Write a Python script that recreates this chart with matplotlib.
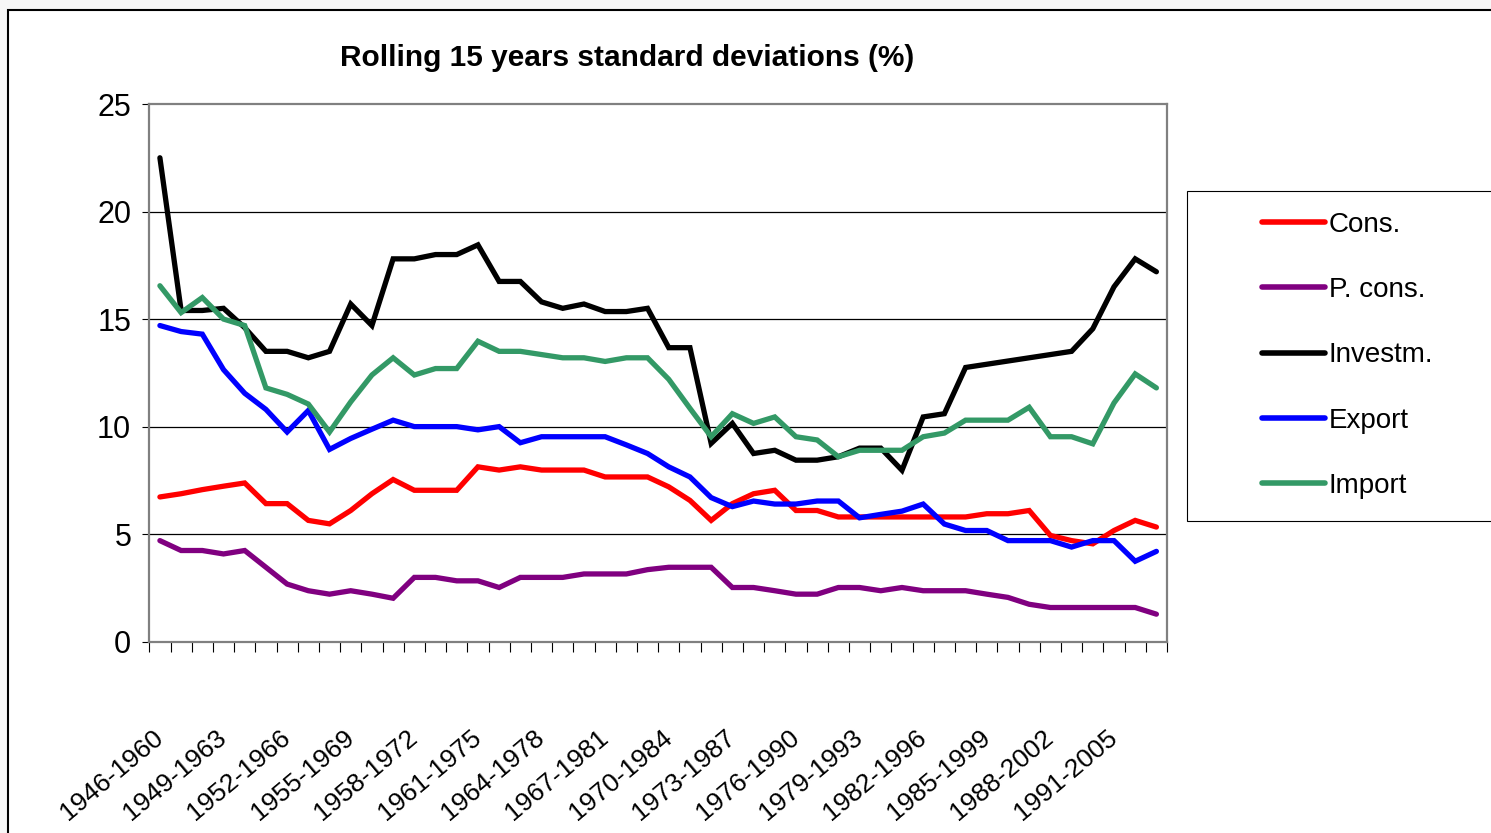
import numpy as np
import matplotlib
matplotlib.use('Agg')
import matplotlib.pyplot as plt
from matplotlib.patches import Rectangle

plt.rcParams['font.family'] = ['Liberation Sans Narrow', 'Liberation Sans', 'DejaVu Sans']

# データ
periods = [f"{y}-{y + 14}" for y in range(1946, 1994)]

cons = [6.73, 6.88, 7.07, 7.23, 7.38, 6.42, 6.42, 5.64, 5.48, 6.1,
        6.88, 7.54, 7.04, 7.04, 7.04, 8.13, 7.98, 8.13, 7.98, 7.98,
        7.98, 7.66, 7.66, 7.66, 7.2, 6.57, 5.64, 6.42, 6.88, 7.04,
        6.1, 6.1, 5.8, 5.8, 5.8, 5.8, 5.8, 5.8, 5.8, 5.95,
        5.95, 6.1, 4.94, 4.7, 4.55, 5.17, 5.64, 5.33]
p_cons = [4.7, 4.24, 4.24, 4.08, 4.24, 3.46, 2.68, 2.37, 2.21, 2.37,
          2.21, 2.02, 2.99, 2.99, 2.83, 2.83, 2.52, 2.99, 2.99, 2.99,
          3.15, 3.15, 3.15, 3.35, 3.46, 3.46, 3.46, 2.52, 2.52, 2.37,
          2.21, 2.21, 2.52, 2.52, 2.37, 2.52, 2.37, 2.37, 2.37, 2.21,
          2.06, 1.74, 1.59, 1.59, 1.59, 1.59, 1.59, 1.28]
investm = [22.5, 15.4, 15.4, 15.5, 14.6, 13.5, 13.5, 13.2, 13.5, 15.7,
           14.7, 17.8, 17.8, 18.0, 18.0, 18.45, 16.75, 16.75, 15.8, 15.5,
           15.7, 15.35, 15.35, 15.5, 13.67, 13.67, 9.22, 10.15, 8.75, 8.9,
           8.44, 8.44, 8.6, 9.0, 9.0, 7.97, 10.45, 10.6, 12.75, 12.9,
           13.05, 13.2, 13.35, 13.5, 14.55, 16.5, 17.8, 17.2]
export = [14.7, 14.42, 14.3, 12.65, 11.55, 10.8, 9.75, 10.75, 8.94, 9.45,
          9.88, 10.3, 10.0, 10.0, 10.0, 9.85, 10.0, 9.25, 9.53, 9.53,
          9.53, 9.53, 9.15, 8.75, 8.13, 7.66, 6.7, 6.28, 6.54, 6.4,
          6.4, 6.54, 6.54, 5.76, 5.92, 6.07, 6.4, 5.47, 5.17, 5.17,
          4.7, 4.7, 4.7, 4.4, 4.7, 4.7, 3.74, 4.2]
imports = [16.55, 15.3, 16.0, 15.0, 14.7, 11.8, 11.5, 11.05, 9.75, 11.15,
           12.4, 13.2, 12.4, 12.7, 12.7, 13.97, 13.5, 13.5, 13.35, 13.2,
           13.2, 13.03, 13.2, 13.2, 12.2, 10.85, 9.53, 10.6, 10.15, 10.45,
           9.53, 9.38, 8.6, 8.9, 8.9, 8.9, 9.53, 9.7, 10.3, 10.3,
           10.3, 10.9, 9.53, 9.53, 9.2, 11.1, 12.45, 11.8]

series = [("Cons.", cons, "#ff0000"),
          ("P. cons.", p_cons, "#800080"),
          ("Investm.", investm, "#000000"),
          ("Export", export, "#0000ff"),
          ("Import", imports, "#339966")]

W, H = 1491, 833
fig = plt.figure(figsize=(W / 100, H / 100), dpi=100, facecolor='#f7f7f7')

# 外枠
fig.patches.append(Rectangle((8 / W, -0.1), 1.2, (H - 10) / H + 0.1, transform=fig.transFigure,
                             facecolor='white', edgecolor='black', lw=1.5, zorder=-1))

ax = fig.add_axes([149.3 / W, (H - 641.7) / H, (1167 - 149.3) / W, (641.7 - 104) / H])
x = np.arange(len(periods))
lines = []
for name, vals, col in series:
    ln, = ax.plot(x, vals, color=col, lw=3.8, solid_joinstyle='miter', solid_capstyle='round', label=name)
    lines.append(ln)

for v in [5, 10, 15, 20]:
    ax.axhline(v, color='black', lw=0.9, zorder=0.5)

ax.set_xlim(-0.5, len(periods) - 0.5)
ax.set_ylim(0, 25)
ax.set_yticks(range(0, 26, 5))
ax.tick_params(axis='y', labelsize=22, length=5, width=0.8, pad=8, colors='black')
ax.set_xticks(x[::3])
ax.set_xticklabels(periods[::3], rotation=40, ha='right', va='center', rotation_mode='anchor', fontsize=19)
ax.tick_params(axis='x', which='major', length=0, pad=67)
ax.set_xticks(np.arange(-0.5, len(periods), 1), minor=True)
ax.tick_params(axis='x', which='minor', length=7, width=0.8, color='black')
for s in ax.spines.values():
    s.set_color('#808080')
    s.set_linewidth(1.6)

fig.text(627 / W, 1 - 58 / H, "Rolling 15 years standard deviations (%)", ha='center', va='center',
         fontsize=21.5, fontweight='bold')

# 凡例
fig.patches.append(Rectangle((1187 / W, (H - 521) / H), (1500 - 1187) / W, 330 / H, transform=fig.transFigure,
                             facecolor='white', edgecolor='black', lw=0.8, zorder=1))
leg = fig.legend(handles=lines, loc='upper left', bbox_to_anchor=(1262 / W, 1 - 212 / H),
                 frameon=False, fontsize=20, handlelength=2.25, handletextpad=0.16,
                 labelspacing=1.41, borderpad=0, borderaxespad=0)
leg.set_zorder(5)
for lh in leg.get_lines():
    lh.set_linewidth(4)

fig.savefig('out.png', dpi=100, facecolor=fig.get_facecolor())
